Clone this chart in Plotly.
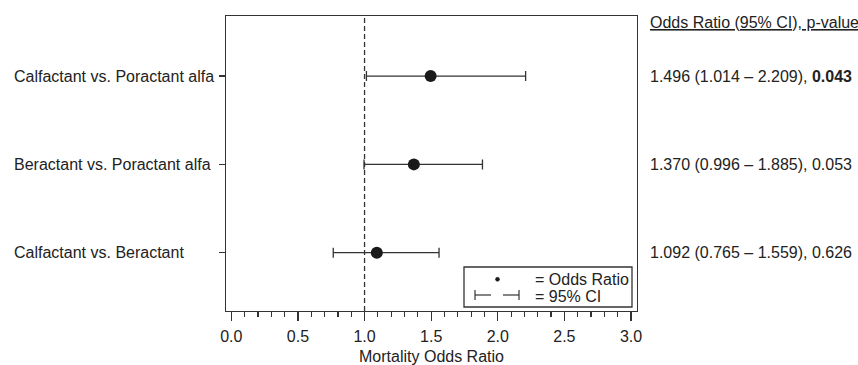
import plotly.graph_objects as go

# ---- data ----
comparisons = ["Calfactant vs. Poractant alfa", "Beractant vs. Poractant alfa", "Calfactant vs. Beractant"]
odds_ratio = [1.496, 1.370, 1.092]
ci_lower = [1.014, 0.996, 0.765]
ci_upper = [2.209, 1.885, 1.559]
p_values = ["<b>0.043</b>", "0.053", "0.626"]
row_pos = [3, 2, 1]
x_ticks = [0.0, 0.5, 1.0, 1.5, 2.0, 2.5, 3.0]
ref_line = 1.0

FONT = "Liberation Sans, Arial, Helvetica, sans-serif"
TXT = "#222222"
LINE = "#333333"

W, H = 858, 365
L, R, T, B = 226, 221, 16, 54
pw, ph = W - L - R, H - T - B


def px_x(p):  # pixel -> paper x
    return (p - L) / pw


def px_y(p):  # pixel -> paper y
    return (H - B - p) / ph


fig = go.Figure()
fig.add_trace(go.Scatter(
    x=odds_ratio, y=row_pos, mode="markers",
    marker=dict(size=12, color="#1a1a1a"),
    error_x=dict(type="data", symmetric=False,
                 array=[u - o for u, o in zip(ci_upper, odds_ratio)],
                 arrayminus=[o - l for o, l in zip(odds_ratio, ci_lower)],
                 color=LINE, thickness=1.3, width=5),
    showlegend=False, hoverinfo="skip",
))

shapes = [
    dict(type="line", xref="x", yref="paper", x0=ref_line, x1=ref_line, y0=0, y1=1,
         line=dict(color=LINE, width=1.3, dash="5px,3px")),
    # legend box
    dict(type="rect", xref="paper", yref="paper",
         x0=px_x(464), x1=px_x(632), y0=px_y(307), y1=px_y(267),
         line=dict(color=LINE, width=1.3), fillcolor="white"),
    dict(type="circle", xref="paper", yref="paper",
         x0=px_x(495.5), x1=px_x(499.5), y0=px_y(281.3), y1=px_y(277.3),
         line=dict(color="#1a1a1a", width=0.5), fillcolor="#1a1a1a"),
    dict(type="line", xref="paper", yref="paper", x0=px_x(475), x1=px_x(475), y0=px_y(300), y1=px_y(290),
         line=dict(color=LINE, width=1.2)),
    dict(type="line", xref="paper", yref="paper", x0=px_x(475), x1=px_x(491), y0=px_y(295), y1=px_y(295),
         line=dict(color=LINE, width=1.2)),
    dict(type="line", xref="paper", yref="paper", x0=px_x(503), x1=px_x(519), y0=px_y(295), y1=px_y(295),
         line=dict(color=LINE, width=1.2)),
    dict(type="line", xref="paper", yref="paper", x0=px_x(519), x1=px_x(519), y0=px_y(300), y1=px_y(290),
         line=dict(color=LINE, width=1.2)),
]

annotations = []
for lab, y in zip(comparisons, row_pos):
    annotations.append(dict(text=lab, xref="paper", yref="y", x=px_x(12), y=y,
                            xanchor="left", yanchor="middle", showarrow=False,
                            font=dict(size=16, color=TXT, family=FONT)))
for o, lo, hi, p, y in zip(odds_ratio, ci_lower, ci_upper, p_values, row_pos):
    annotations.append(dict(text=f"{o:.3f} ({lo:.3f} \u2013 {hi:.3f}), {p}",
                            xref="paper", yref="y", x=px_x(648), y=y,
                            xanchor="left", yanchor="middle", showarrow=False,
                            font=dict(size=16, color=TXT, family=FONT)))
annotations.append(dict(text="<u>Odds Ratio (95% CI), p-value</u>", xref="paper", yref="paper",
                        x=px_x(648), y=px_y(22), xanchor="left", yanchor="middle", showarrow=False,
                        font=dict(size=16, color=TXT, family=FONT)))
annotations.append(dict(text="= Odds Ratio", xref="paper", yref="paper", x=px_x(533), y=px_y(279),
                        xanchor="left", yanchor="middle", showarrow=False,
                        font=dict(size=16, color=TXT, family=FONT)))
annotations.append(dict(text="= 95% CI", xref="paper", yref="paper", x=px_x(533), y=px_y(296),
                        xanchor="left", yanchor="middle", showarrow=False,
                        font=dict(size=16, color=TXT, family=FONT)))

fig.update_layout(
    width=W, height=H,
    margin=dict(l=L, r=R, t=T, b=B, pad=0, autoexpand=False),
    paper_bgcolor="white", plot_bgcolor="white",
    font=dict(family=FONT, size=16, color=TXT),
    shapes=shapes, annotations=annotations,
    xaxis=dict(range=[-0.04, 3.045], tickvals=x_ticks, ticktext=[f"{v:.1f}" for v in x_ticks],
               ticks="outside", ticklen=9, tickwidth=1.3, tickcolor=LINE, ticklabelstandoff=1,
               minor=dict(dtick=0.1, tick0=0, ticks="outside", ticklen=5, tickwidth=1.2, tickcolor=LINE),
               showline=True, linecolor=LINE, linewidth=1.3, mirror=True,
               showgrid=False, zeroline=False, automargin=False,
               tickfont=dict(size=16, color=TXT, family=FONT),
               title=dict(text="Mortality Odds Ratio", standoff=8,
                          font=dict(size=16, color=TXT, family=FONT))),
    yaxis=dict(range=[0.34, 3.68], tickvals=row_pos, showticklabels=False,
               ticks="outside", ticklen=6, tickwidth=1.3, tickcolor=LINE,
               showline=True, linecolor=LINE, linewidth=1.3, mirror=True,
               showgrid=False, zeroline=False, automargin=False),
)

fig.write_html("out.html", config={"displayModeBar": False, "staticPlot": True},
               post_script="document.body.style.margin='0';document.body.style.overflow='hidden';"
                           "document.documentElement.style.overflow='hidden';")
